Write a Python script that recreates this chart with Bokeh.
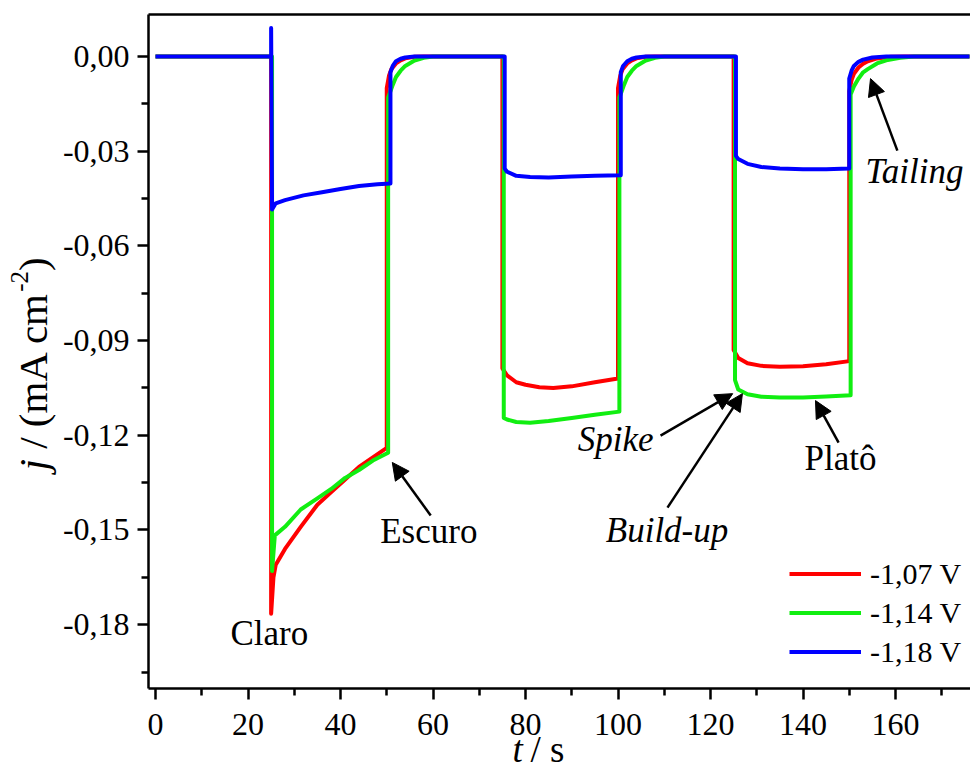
from math import pi
from bokeh.plotting import figure
from bokeh.models import (Range1d, FixedTicker, CustomJSTickFormatter, Label, Arrow,
                          NormalHead, Legend, LegendItem, LinearAxis)
from bokeh.embed import file_html
from bokeh.resources import INLINE

# ---------------- data ----------------
series_labels = ["-1,07 V", "-1,14 V", "-1,18 V"]
series_colors = ["#ff0000", "#11ee11", "#0000ff"]

t_red = [0, 25, 25, 25.5, 26, 28, 31.4, 35, 38, 41, 44, 47, 50,
         50, 50.5, 51, 52, 53, 54, 56, 58,
         75, 75, 76, 78, 80, 83, 86, 90, 95, 100,
         100, 100.5, 101, 102, 103, 104, 106, 108,
         125, 125, 126, 128, 131, 135, 140, 145, 150,
         150, 150.5, 151, 152, 153, 154, 156, 159, 162, 176]
j_red = [0, 0, -0.1765, -0.165, -0.161, -0.156, -0.149, -0.142, -0.138, -0.134, -0.130, -0.127, -0.124,
         -0.010, -0.006, -0.004, -0.0022, -0.0012, -0.0006, -0.0001, 0,
         0, -0.0988, -0.101, -0.1032, -0.104, -0.1048, -0.105, -0.1045, -0.1032, -0.102,
         -0.010, -0.006, -0.004, -0.0022, -0.0012, -0.0006, -0.0001, 0,
         0, -0.093, -0.0955, -0.0972, -0.098, -0.0983, -0.0981, -0.0975, -0.0965,
         -0.011, -0.0075, -0.0055, -0.0035, -0.0023, -0.0015, -0.0006, -0.0001, 0, 0]

t_grn = [0, 25.2, 25.2, 25.8, 28, 31.4, 35, 38, 41, 44, 47, 50.3,
         50.3, 50.8, 51.3, 52, 53, 54, 56, 58, 60,
         75.3, 75.3, 76, 78, 81, 85, 90, 95, 100.3,
         100.3, 100.8, 101.3, 102, 103, 104, 106, 108, 110,
         125.3, 125.3, 126, 128, 131, 135, 140, 145, 150.3,
         150.3, 151, 152, 153, 154, 156, 158, 161, 164, 176]
j_grn = [0, 0, -0.163, -0.1517, -0.149, -0.1435, -0.140, -0.137, -0.1335, -0.131, -0.128, -0.1255,
         -0.013, -0.011, -0.009, -0.0065, -0.0045, -0.003, -0.0013, -0.0004, 0,
         0, -0.1145, -0.115, -0.1158, -0.116, -0.1155, -0.1145, -0.1135, -0.1125,
         -0.013, -0.011, -0.009, -0.0065, -0.0045, -0.003, -0.0013, -0.0004, 0,
         0, -0.1025, -0.1055, -0.107, -0.1078, -0.108, -0.108, -0.1077, -0.1073,
         -0.012, -0.0095, -0.007, -0.005, -0.004, -0.0022, -0.0012, -0.0004, 0, 0]

t_blu = [0, 25, 25, 25.2, 26, 28, 32, 36, 40, 44, 48, 50.8,
         50.8, 51.3, 52, 53, 54, 56,
         75.5, 75.5, 76, 78, 81, 85, 90, 95, 100.6,
         100.6, 101.1, 102, 103, 104, 106,
         125.5, 125.5, 126, 128, 131, 135, 140, 145, 150,
         150, 150.5, 151, 152, 153, 155, 158, 176]
j_blu = [0, 0, 0.009, -0.0485, -0.0465, -0.0455, -0.044, -0.043, -0.042, -0.041, -0.0405, -0.0402,
         -0.005, -0.003, -0.0015, -0.0007, -0.0003, 0,
         0, -0.0355, -0.0365, -0.0378, -0.0382, -0.0383, -0.038, -0.0378, -0.0376,
         -0.005, -0.003, -0.0015, -0.0007, -0.0003, 0,
         0, -0.0315, -0.0325, -0.034, -0.035, -0.0355, -0.0357, -0.0357, -0.0355,
         -0.007, -0.0045, -0.003, -0.0017, -0.001, -0.0003, 0, 0]

x_ticks = [0, 20, 40, 60, 80, 100, 120, 140, 160]
x_minor = [10, 30, 50, 70, 90, 110, 130, 150, 170]
y_ticks = [-0.18, -0.15, -0.12, -0.09, -0.06, -0.03, 0.0]
y_minor = [-0.195, -0.165, -0.135, -0.105, -0.075, -0.045, -0.015]

# visible axes box (data units)
X_LO, X_HI = -1.5, 176.2
Y_LO, Y_HI = -0.2002, 0.0133

FONT = "Liberation Serif"

# The frame spans the whole canvas; axes are pinned at the box edges so that
# titles drawn as labels are not clipped away.
p = figure(width=970, height=774, output_backend="svg", toolbar_location=None,
           x_range=Range1d(-33.514, 176.216), y_range=Range1d(-0.22746, 0.017741),
           min_border_left=0, min_border_right=0, min_border_top=0, min_border_bottom=0)
p.background_fill_color = "white"
p.border_fill_color = "white"
p.outline_line_color = None
p.xgrid.visible = False
p.ygrid.visible = False

xa = p.xaxis[0]
ya = p.yaxis[0]
xa.fixed_location = Y_LO
ya.fixed_location = X_LO
xa.bounds = (X_LO, X_HI)
ya.bounds = (Y_LO, Y_HI)
xa.ticker = FixedTicker(ticks=x_ticks, minor_ticks=x_minor)
ya.ticker = FixedTicker(ticks=y_ticks, minor_ticks=y_minor)
ya.formatter = CustomJSTickFormatter(code="return tick.toFixed(2).replace('.', ',');")
for ax in (xa, ya):
    ax.axis_line_width = 2.5
    ax.axis_line_color = "black"
    ax.major_tick_line_width = 2.5
    ax.minor_tick_line_width = 2.5
    ax.major_tick_line_color = "black"
    ax.minor_tick_line_color = "black"
    ax.major_tick_out = 11
    ax.major_tick_in = 0
    ax.minor_tick_out = 7
    ax.minor_tick_in = 0
    ax.major_label_text_font = FONT
    ax.major_label_text_font_size = "32px"
    ax.major_label_text_color = "black"
ya.major_label_standoff = 8
xa.major_label_standoff = 15

# top border of the box
top = LinearAxis(fixed_location=Y_HI, bounds=(X_LO, X_HI),
                 ticker=FixedTicker(ticks=[], minor_ticks=[]),
                 axis_line_width=2.5, axis_line_color="black",
                 major_tick_out=0, major_tick_in=0, minor_tick_out=0, minor_tick_in=0,
                 major_label_text_alpha=0)
p.add_layout(top, "above")

renderers = []
for tt, jj, c in [(t_red, j_red, series_colors[0]), (t_grn, j_grn, series_colors[1]),
                  (t_blu, j_blu, series_colors[2])]:
    r = p.line(tt, jj, line_color=c, line_width=4, line_join="round")
    renderers.append(r)

legend = Legend(items=[LegendItem(label=lab, renderers=[r]) for lab, r in zip(series_labels, renderers)],
                location=(789, 103), glyph_width=72, glyph_height=39, label_height=39,
                spacing=0, padding=0, margin=0, label_standoff=9,
                border_line_alpha=0, background_fill_alpha=0,
                label_text_font=FONT, label_text_font_size="30px", label_text_color="black")
p.add_layout(legend)

# ---------------- annotations ----------------
def lab(x, y, text, size="35px", style="normal", align="center", angle=0.0):
    p.add_layout(Label(x=x, y=y, text=text, text_font=FONT, text_font_size=size,
                       text_font_style=style, text_align=align, text_baseline="alphabetic",
                       text_color="black", angle=angle))

def arr(x0, y0, x1, y1):
    p.add_layout(Arrow(x_start=x0, y_start=y0, x_end=x1, y_end=y1, line_width=2.5,
                       line_color="black",
                       end=NormalHead(size=17, fill_color="black", line_color="black")))

lab(24.6, -0.1828, "Claro")
lab(59.1, -0.1504, "Escuro")
arr(59.5, -0.1454, 51.2, -0.1286)
lab(99.5, -0.1212, "Spike", style="italic")
arr(109.2, -0.1201, 124.8, -0.1068)
lab(110.6, -0.1501, "Build-up", style="italic")
arr(110.7, -0.1429, 126.9, -0.1068)
lab(148.1, -0.1273, "Platô")
arr(147.7, -0.1223, 142.7, -0.1090)
lab(164.1, -0.0364, "Tailing", style="italic")
arr(160.4, -0.0298, 154.6, -0.0070)

# ---------------- axis titles (mixed italic / upright pieces) ----------------
lab(77.19, -0.2194, "t", size="37px", style="italic", align="left")
lab(81.08, -0.2194, "/ s", size="37px", align="left")
lab(-26.38, -0.13115, "j", size="41px", style="italic", align="left", angle=pi / 2)
lab(-26.38, -0.12430, "/ (mA cm", size="41px", align="left", angle=pi / 2)
lab(-29.41, -0.07454, "-2", size="25px", align="left", angle=pi / 2)
lab(-26.38, -0.06795, ")", size="41px", align="left", angle=pi / 2)

open("out.html", "w").write(file_html(p, INLINE))
